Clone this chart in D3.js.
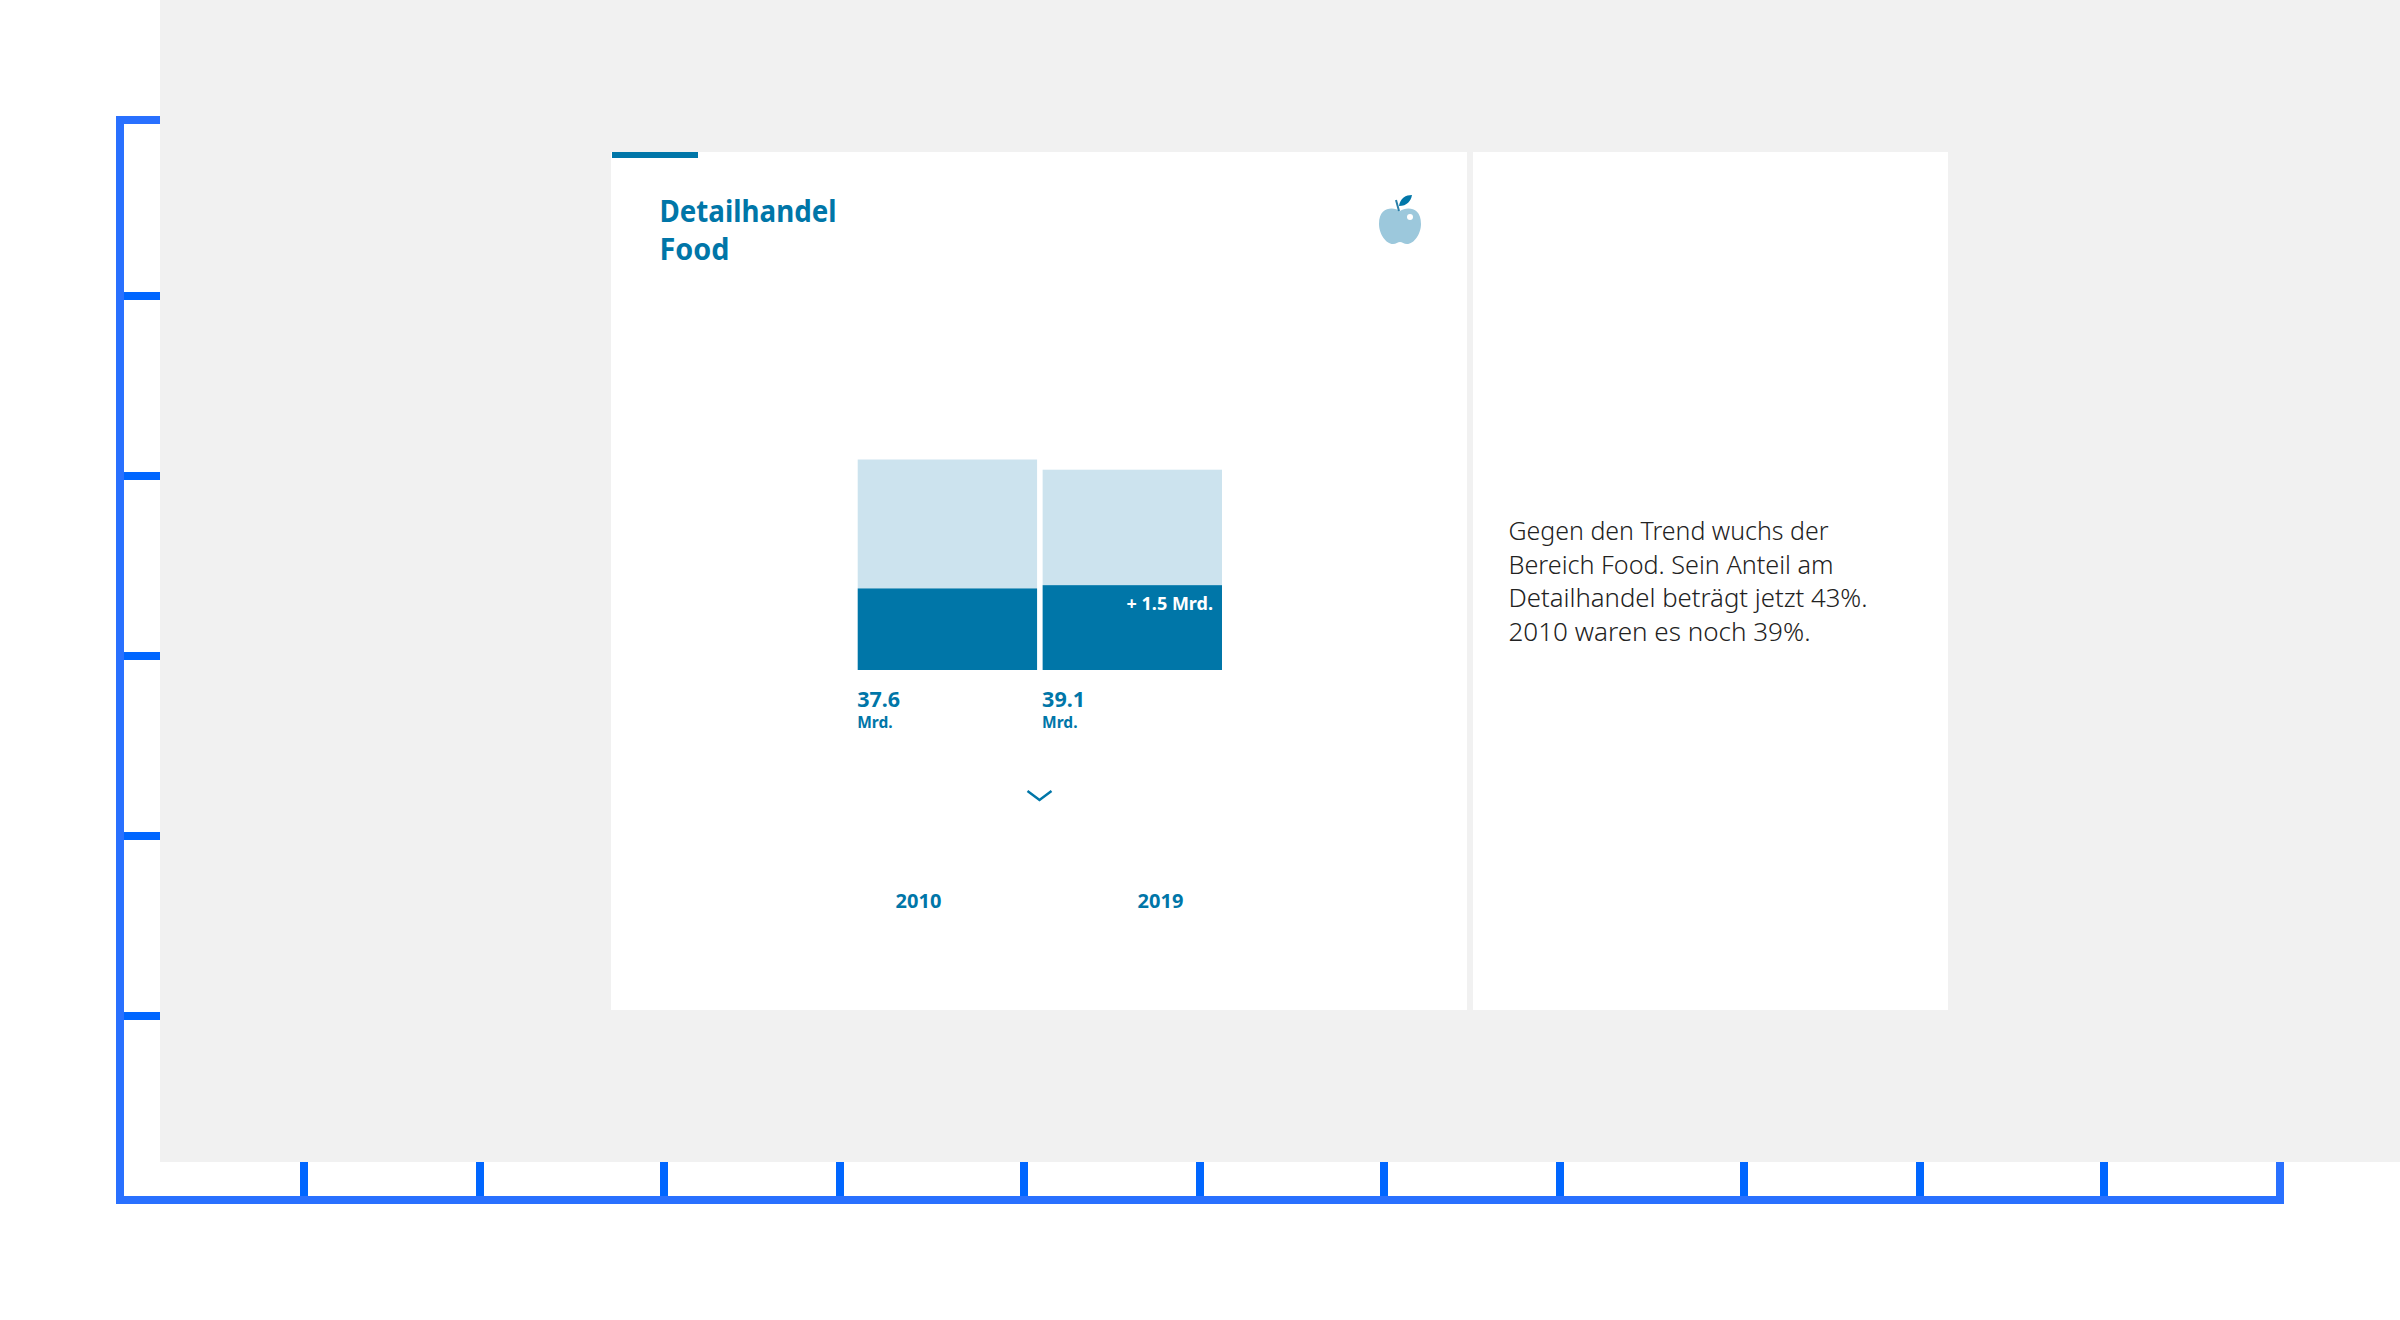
<!DOCTYPE html>
<html>
<head>
    <meta charset="utf-8">
    <title>Detailhandel Food</title>
    <script src="https://d3js.org/d3.v7.min.js"></script>
    <style>
        html, body { margin: 0; padding: 0; background: #fff; }
        svg { display: block; }
        text { font-family: "Noto Sans", sans-serif; }
    </style>
</head>
<body>
<svg id="chart" width="2400" height="1320"></svg>

<script>
    // Werte aus dem Bild
    const years = ["2010", "2019"];
    const food = [37.6, 39.1];
    const nonFood = [59.4, 53.2];
    const foodLabels = ["37.6", "39.1"];
    const unitLabel = "Mrd.";
    const deltaLabel = "+ 1.5 Mrd.";
    const titleLines = ["Detailhandel", "Food"];
    const noteLines = [
        "Gegen den Trend wuchs der",
        "Bereich Food. Sein Anteil am",
        "Detailhandel beträgt jetzt 43%.",
        "2010 waren es noch 39%."
    ];
    const xAxisTicks = d3.range(1, 12);
    const yAxisTicks = d3.range(1, 6);

    const blue = "#0076a8";
    const lightBlue = "#cce3ee";
    const svg = d3.select("#chart");

    // Zeilenbreiten, damit die Ersatzschrift gleich lang läuft wie im Bild
    const titleWidths = [177, 70];
    const noteWidths = [320, 325, 359, 302];

    // blauer Rahmen mit Ticks
    const frameX = d3.scaleLinear().domain([0, 12]).range([120, 2280]);
    const frameY = d3.scaleLinear().domain([0, 6]).range([1200, 120]);
    const axisX = d3.axisBottom(frameX).tickValues(xAxisTicks).tickFormat("")
        .tickSizeInner(-60).tickSizeOuter(-60).offset(0);
    const axisY = d3.axisLeft(frameY).tickValues(yAxisTicks).tickFormat("")
        .tickSizeInner(-60).tickSizeOuter(-60).offset(0);

    const gx = svg.append("g").attr("transform", "translate(0,1200)").call(axisX);
    const gy = svg.append("g").attr("transform", "translate(120,0)").call(axisY);
    // die Ticks sitzen im Bild nicht genau auf der Skala
    gx.selectAll(".tick").attr("transform", d => `translate(${Math.ceil(frameX(d) / 8) * 8},0)`);
    gy.selectAll(".tick").attr("transform", d => `translate(0,${frameY(d) - 4})`);
    svg.selectAll(".tick line").attr("stroke", "#0066ff").attr("stroke-width", 8);
    svg.selectAll(".domain").attr("stroke", "#2970ff").attr("stroke-width", 8).raise();
    gx.raise();

    // Hintergrund und Karten
    svg.append("rect").attr("x", 160).attr("y", 0).attr("width", 2240).attr("height", 1162).attr("fill", "#f1f1f1");
    svg.append("rect").attr("x", 611).attr("y", 152).attr("width", 856).attr("height", 858).attr("fill", "#fff");
    svg.append("rect").attr("x", 1473).attr("y", 152).attr("width", 475).attr("height", 858).attr("fill", "#fff");
    svg.append("rect").attr("x", 612).attr("y", 152).attr("width", 86).attr("height", 6).attr("fill", blue);

    // Titel
    svg.append("g").selectAll("text").data(titleLines).join("text")
        .attr("x", 659.5)
        .attr("y", (d, i) => 221.5 + i * 38.5)
        .attr("fill", blue)
        .attr("font-size", 29.5)
        .attr("font-weight", 700)
        .attr("textLength", (d, i) => titleWidths[i])
        .attr("lengthAdjust", "spacingAndGlyphs")
        .text(d => d);

    // Apfel
    const apple = svg.append("g").attr("transform", "translate(1400,226)");
    apple.append("path")
        .attr("fill", "#9cc8dc")
        .attr("d", "M0,-15 C6,-19 21,-20 21,-2 C21,8 14,18 7,18 C4,18 2,16 0,16 C-2,16 -4,18 -7,18 C-14,18 -21,8 -21,-2 C-21,-20 -6,-19 0,-15 Z");
    apple.append("circle").attr("cx", 10).attr("cy", -9).attr("r", 3).attr("fill", "#fff");
    apple.append("path").attr("fill", "none").attr("stroke", "#2a7fa8").attr("stroke-width", 2)
        .attr("d", "M-4,-26 L-1,-15");
    apple.append("path").attr("fill", blue)
        .attr("d", "M-1,-20 C0,-28 6,-31 12,-31 C11,-25 7,-20 -1,-20 Z");

    // gestapelte Balken
    const x = d3.scaleBand().domain(years).range([857.7, 1222]).paddingInner(0.03);
    const y = d3.scaleLinear().domain([0, 100]).range([670, 453]);

    const bars = svg.append("g").selectAll("g").data(years).join("g");
    bars.append("rect")
        .attr("x", d => x(d))
        .attr("y", (d, i) => y(food[i] + nonFood[i]))
        .attr("width", x.bandwidth())
        .attr("height", (d, i) => y(food[i]) - y(food[i] + nonFood[i]))
        .attr("fill", lightBlue);
    bars.append("rect")
        .attr("x", d => x(d))
        .attr("y", (d, i) => y(food[i]))
        .attr("width", x.bandwidth())
        .attr("height", (d, i) => y(0) - y(food[i]))
        .attr("fill", blue);

    bars.append("text")
        .attr("x", d => x(d) - 0.5)
        .attr("y", 706.5)
        .attr("fill", blue)
        .attr("font-size", 21.5)
        .attr("font-weight", 700)
        .text((d, i) => foodLabels[i]);
    bars.append("text")
        .attr("x", d => x(d) - 0.5)
        .attr("y", 728)
        .attr("fill", blue)
        .attr("font-size", 15.5)
        .attr("font-weight", 700)
        .text(unitLabel);

    svg.append("text")
        .attr("x", x("2019") + x.bandwidth() - 9)
        .attr("y", 610)
        .attr("text-anchor", "end")
        .attr("fill", "#fff")
        .attr("font-size", 18)
        .attr("font-weight", 700)
        .text(deltaLabel);

    // Pfeil
    svg.append("path")
        .attr("fill", "none")
        .attr("stroke", blue)
        .attr("stroke-width", 2.5)
        .attr("d", "M1027.5,791 L1039.5,800 L1051.5,791");

    // Jahre
    const yearX = d3.scalePoint().domain(years).range([918.5, 1160.5]);
    svg.append("g").selectAll("text").data(years).join("text")
        .attr("x", d => yearX(d))
        .attr("y", 907.5)
        .attr("text-anchor", "middle")
        .attr("fill", blue)
        .attr("font-size", 20)
        .attr("font-weight", 700)
        .text(d => d);

    // Text rechts
    svg.append("g").selectAll("text").data(noteLines).join("text")
        .attr("x", 1508.5)
        .attr("y", (d, i) => 540 + i * 33.5)
        .attr("fill", "#222")
        .attr("font-size", 26)
        .attr("font-weight", 300)
        .attr("textLength", (d, i) => noteWidths[i])
        .attr("lengthAdjust", "spacingAndGlyphs")
        .text(d => d);
</script>
</body>
</html>
